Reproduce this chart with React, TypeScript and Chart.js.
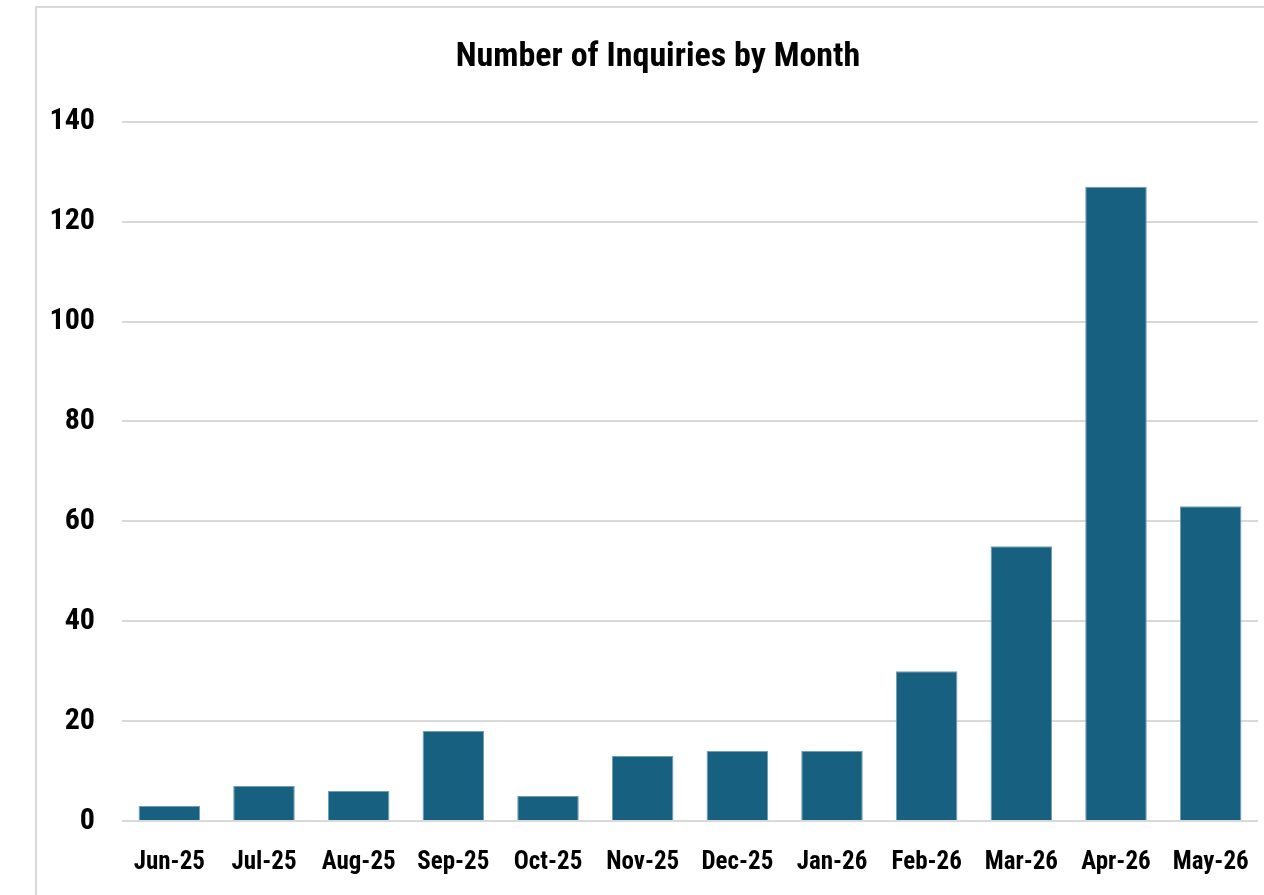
import React, { useEffect, useRef } from "react";
import { Chart, registerables } from "chart.js";

Chart.register(...registerables);

const months = ["Jun-25", "Jul-25", "Aug-25", "Sep-25", "Oct-25", "Nov-25", "Dec-25", "Jan-26", "Feb-26", "Mar-26", "Apr-26", "May-26"];
const inquiries = [3, 7, 6, 18, 5, 13, 14, 14, 30, 55, 127, 63];
const yTicks = [0, 20, 40, 60, 80, 100, 120, 140];
const titleText = "Number of Inquiries by Month";

const FONT = "'Roboto Condensed', Roboto, 'DejaVu Sans Condensed', sans-serif";

export default function App() {
  const canvasRef = useRef<HTMLCanvasElement | null>(null);

  useEffect(() => {
    if (!canvasRef.current) return;
    const chart = new Chart(canvasRef.current, {
      type: "bar",
      data: {
        labels: months,
        datasets: [
          {
            data: inquiries,
            backgroundColor: "#186080",
            borderColor: "#6f9db4",
            borderWidth: 1,
            barPercentage: 0.65,
            categoryPercentage: 1,
          },
        ],
      },
      options: {
        animation: false,
        responsive: true,
        maintainAspectRatio: false,
        layout: { padding: { left: 0, right: 0, top: 0, bottom: 0 } },
        plugins: {
          legend: { display: false },
          tooltip: { enabled: false },
          title: {
            display: true,
            text: titleText,
            color: "#000",
            font: { family: FONT, size: 34, weight: "bold", lineHeight: 1.2 },
            padding: { top: 37, bottom: 44 },
          },
        },
        scales: {
          x: {
            grid: { display: false, drawTicks: false },
            border: { display: false },
            ticks: {
              color: "#000",
              font: { family: FONT, size: 25, weight: "bold" },
              padding: 27,
              maxRotation: 0,
              autoSkip: false,
            },
            afterFit: (scale: any) => {
              scale.height = 74;
              scale.paddingLeft = 0;
              scale.paddingRight = 22;
            },
          },
          y: {
            min: 0,
            max: 140,
            afterBuildTicks: (scale: any) => {
              scale.ticks = yTicks.map((v) => ({ value: v }));
            },
            grid: { color: "#d9d9d9", lineWidth: 2, drawTicks: false },
            border: { display: false },
            ticks: {
              color: "#000",
              font: { family: FONT, size: 30, weight: "bold" },
              padding: 27,
            },
            afterFit: (scale: any) => {
              scale.width = 86;
            },
          },
        },
      },
    });
    return () => chart.destroy();
  }, []);

  return (
    <div style={{ position: "fixed", left: 0, top: 0, width: "100vw", height: "100vh", overflow: "hidden", background: "#fff" }}>
      <div
        style={{
          position: "absolute",
          left: 35,
          top: 6,
          width: 1300,
          height: 1000,
          border: "2px solid #d9d9d9",
          boxSizing: "border-box",
        }}
      />
      <div style={{ position: "absolute", left: 36, top: 0, width: 1244, height: 895 }}>
        <canvas ref={canvasRef} />
      </div>
    </div>
  );
}
